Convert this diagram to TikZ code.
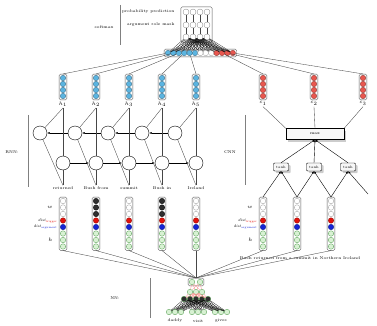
\documentclass[tikz,border=0pt]{standalone}
\usepackage{amsmath,amssymb}
\usepackage{tikz}
\usepackage{xcolor}
\usetikzlibrary{arrows.meta,positioning,fit,shadows}
\definecolor{nblue}{HTML}{5BB4E0}
\definecolor{nred}{HTML}{E8574F}
\definecolor{dred}{HTML}{E3120B}
\definecolor{dblue}{HTML}{1424D6}
\definecolor{ngreen}{HTML}{D8F1D3}
\definecolor{dgreen}{HTML}{4F9A4C}
\definecolor{ndark}{HTML}{2E2E2E}

\begin{document}
\begin{tikzpicture}[
    x=1pt, y=-1pt,
    font=\fontsize{4}{5}\selectfont,
    unit/.style={circle, draw=gray, fill=white, minimum size=5.5pt, inner sep=0pt, line width=0.3pt},
    bunit/.style={unit, fill=nblue, draw=nblue!55!black},
    runit/.style={unit, fill=nred, draw=nred!55!black},
    wunit/.style={unit, draw=gray!80},
    kunit/.style={unit, fill=ndark, draw=black},
    tunit/.style={unit, fill=dred, draw=dred!60!black},
    aunit/.style={unit, fill=dblue, draw=dblue!60!black},
    gunit/.style={unit, fill=ngreen, draw=dgreen},
    dunit/.style={unit, fill=ndark, draw=dgreen},
    group/.style={draw=gray!70!black, rounded corners=1.5pt, inner sep=1pt, line width=0.35pt},
    cell/.style={circle, draw, fill=white, minimum size=14pt, inner sep=0pt, line width=0.4pt},
    convbox/.style={draw, rounded corners=1pt, fill=gray!6, drop shadow={opacity=0.4}, minimum width=15pt, minimum height=8pt, inner sep=1pt, font=\fontsize{3.5}{4}\selectfont},
    maxbox/.style={draw, fill=gray!6, drop shadow={opacity=0.4}, minimum width=58pt, minimum height=11pt, inner sep=1pt},
    link/.style={gray!55!black, line width=0.35pt},
    fan/.style={black, line width=0.2pt},
    pink/.style={red!45, line width=0.3pt},
    line/.style={-{Latex[length=2.5pt,width=2pt]}, line width=0.4pt},
    bar/.style={gray, line width=0.4pt}
  ]
    \useasboundingbox (0,0) rectangle (377,326);

    % softmax block
    \foreach \c [count=\i] in {186,193,200,207} {
      \foreach \r [count=\j] in {12,25,37}
        \node[unit, minimum size=6pt] (sm\i-\j) at (\c,\r) {};
      \draw[link] (sm\i-3) -- (sm\i-2) -- (sm\i-1);
    }
    \node[group, fit=(sm1-1)(sm4-3), inner sep=2pt] (smx) {};
    \node[anchor=east] (prob) at (178,12) {probability prediction};
    \node[anchor=east] (mask) at (178,25) {argument role mask};
    \draw[bar] (120,5) -- (120,45);
    \node (smlab) at (104,27) {softmax};

    % concatenated vector
    \foreach \k in {1,...,6} \node[bunit] (cat\k) at (162.6+5.4*\k,53) {};
    \foreach \k in {7,...,9} \node[wunit] (cat\k) at (162.6+5.4*\k,53) {};
    \foreach \k in {10,...,13} \node[runit] (cat\k) at (162.6+5.4*\k,53) {};
    \node[group, fit=(cat1)(cat13)] (cat) {};
    \foreach \i in {1,...,4}
      \foreach \k in {1,...,13}
        \draw[fan] (sm\i-3) -- (cat\k);

    % RNN outputs
    \foreach \x [count=\i] in {63,96,129,162,196} {
      \foreach \y [count=\j] in {78,84,90,96}
        \node[bunit] (hb\i-\j) at (\x,\y) {};
      \node[group, fit=(hb\i-1)(hb\i-4)] (hcol\i) {};
      \node[below=0.5pt of hcol\i, inner sep=1pt] (hlab\i) {$h_{\i}$};
      \draw[link] (cat\i) -- (hcol\i.north);
    }

    % CNN outputs
    \foreach \x [count=\i] in {263,314,363} {
      \foreach \y [count=\j] in {78,84,90,96}
        \node[runit] (cb\i-\j) at (\x,\y) {};
      \node[group, fit=(cb\i-1)(cb\i-4)] (ccol\i) {};
      \node[below=0.5pt of ccol\i, inner sep=1pt] (clab\i) {$c_{\i}$};
      \pgfmathtruncatemacro{\k}{10+\i}
      \draw[link] (cat\k) -- (ccol\i.north);
    }

    % RNN
    \draw[bar] (28,115) -- (28,187);
    \node (rnnlab) at (12,152) {RNN:};
    \foreach \x [count=\i] in {40,75,108,142,175}
      \node[cell] (bw\i) at (\x,133) {};
    \foreach \x [count=\i] in {63,96,129,162,196}
      \node[cell] (fw\i) at (\x,163) {};
    \foreach \i/\j in {1/2,2/3,3/4,4/5} {
      \draw[line] (bw\j) -- (bw\i);
      \draw[line] (fw\i) -- (fw\j);
    }
    \foreach \x/\w [count=\i] in {63/returned,96/Bush from,129/summit,162/Bush in,196/Ireland} {
      \node[inner sep=1pt] (wd\i) at (\x,188) {\w};
      \draw[link] (hlab\i.south) -- (fw\i);
      \draw[link] (fw\i) -- (wd\i.north);
      \draw[link] (hlab\i.south) -- (bw\i);
      \draw[link] (bw\i) -- (wd\i.north);
    }

    % RNN inputs
    \foreach \x/\s [count=\i] in {63/wunit,96/kunit,129/wunit,162/kunit,196/wunit} {
      \foreach \y [count=\j] in {201,207.5,214}
        \node[\s] (in\i-\j) at (\x,\y) {};
      \node[tunit] (in\i-4) at (\x,220.5) {};
      \node[aunit] (in\i-5) at (\x,227) {};
      \foreach \y [count=\j from 6] in {233.5,240,246.5}
        \node[gunit] (in\i-\j) at (\x,\y) {};
      \node[group, fit=(in\i-1)(in\i-8)] (incol\i) {};
    }
    \node[left=4pt of in1-2] (lw) {$w$};
    \node[left=2pt of in1-4, inner sep=0.5pt] (ldt) {\textit{dist}$_{\text{\textcolor{dred}{trigger}}}$};
    \node[left=2pt of in1-5, inner sep=0.5pt] (lda) {\textit{dist}$_{\text{\textcolor{dblue}{argument}}}$};
    \node[left=4pt of in1-7] (lh) {$h$};

    % CNN inputs
    \foreach \x [count=\i] in {263,297,331} {
      \foreach \y [count=\j] in {201,207.5,214}
        \node[wunit] (cin\i-\j) at (\x,\y) {};
      \node[tunit] (cin\i-4) at (\x,220.5) {};
      \node[aunit] (cin\i-5) at (\x,227) {};
      \foreach \y [count=\j from 6] in {233.5,240,246.5}
        \node[gunit] (cin\i-\j) at (\x,\y) {};
      \node[group, fit=(cin\i-1)(cin\i-8)] (cincol\i) {};
    }
    \node[left=4pt of cin1-2] (cw) {$w$};
    \node[left=2pt of cin1-4, inner sep=0.5pt] (cdt) {\textit{dist}$_{\text{\textcolor{dred}{trigger}}}$};
    \node[left=2pt of cin1-5, inner sep=0.5pt] (cda) {\textit{dist}$_{\text{\textcolor{dblue}{argument}}}$};
    \node[left=4pt of cin1-7] (ch) {$h$};
    \node (sent) at (300,258) {Bush returned from a summit in Northern Ireland};

    % CNN
    \draw[bar] (245,115) -- (245,185);
    \node (cnnlab) at (230,152) {CNN};
    \node[maxbox] (mx) at (315,134) {max};
    \node[convbox] (cv1) at (281,167) {tanh};
    \node[convbox] (cv2) at (314,167) {tanh};
    \node[convbox] (cv3) at (348,167) {tanh};
    \coordinate (cnext) at (368,194);
    \draw[line] (cincol1.north) -- (cv1.south);
    \draw[line] (cincol2.north) -- (cv1.south);
    \draw[line] (cincol2.north) -- (cv2.south);
    \draw[line] (cincol3.north) -- (cv2.south);
    \draw[line] (cincol3.north) -- (cv3.south);
    \draw[line] (cnext) -- (cv3.south);
    \draw[line] (cv1.north) -- (mx.south);
    \draw[line] (cv2.north) -- (mx.south);
    \draw[line] (cv3.north) -- (mx.south);
    \draw[link] (mx.north west) -- (clab1.south);
    \draw[link] (mx.north) -- (clab2.south);
    \draw[link] (mx.north east) -- (clab3.south);

    % word network
    \draw[bar] (150,278) -- (150,318);
    \node (nnlab) at (115,298) {NN:};
    \node[gunit] (nt1) at (192,282) {};
    \node[gunit] (nt2) at (200,282) {};
    \node[group, fit=(nt1)(nt2)] (ntop) {};
    \foreach \i in {1,...,5} \draw[link] (incol\i.south) -- (ntop.north);
    \foreach \i in {1,...,3} \draw[link] (cincol\i.south) -- (ntop.north);
    \foreach \x [count=\i] in {190,196,202} {
      \node[gunit] (na\i) at (\x,292) {};
      \draw[pink] (nt1) -- (na\i);
      \draw[pink] (nt2) -- (na\i);
    }
    \foreach \x [count=\i] in {184,190,196,202,208} {
      \node[dunit] (nb\i) at (\x,299) {};
      \foreach \j in {1,2,3} \draw[pink] (na\j) -- (nb\i);
    }
    \foreach \x/\w [count=\g] in {175/daddy,198/visit,221/gives} {
      \foreach \d [count=\j] in {-6,0,6} {
        \node[gunit] (nw\g-\j) at (\x+\d,312) {};
        \foreach \i in {1,...,5} \draw[fan] (nb\i) -- (nw\g-\j);
      }
      \node[inner sep=1pt] (wl\g) at (\x,321) {\w};
    }
  \end{tikzpicture}
\end{document}
